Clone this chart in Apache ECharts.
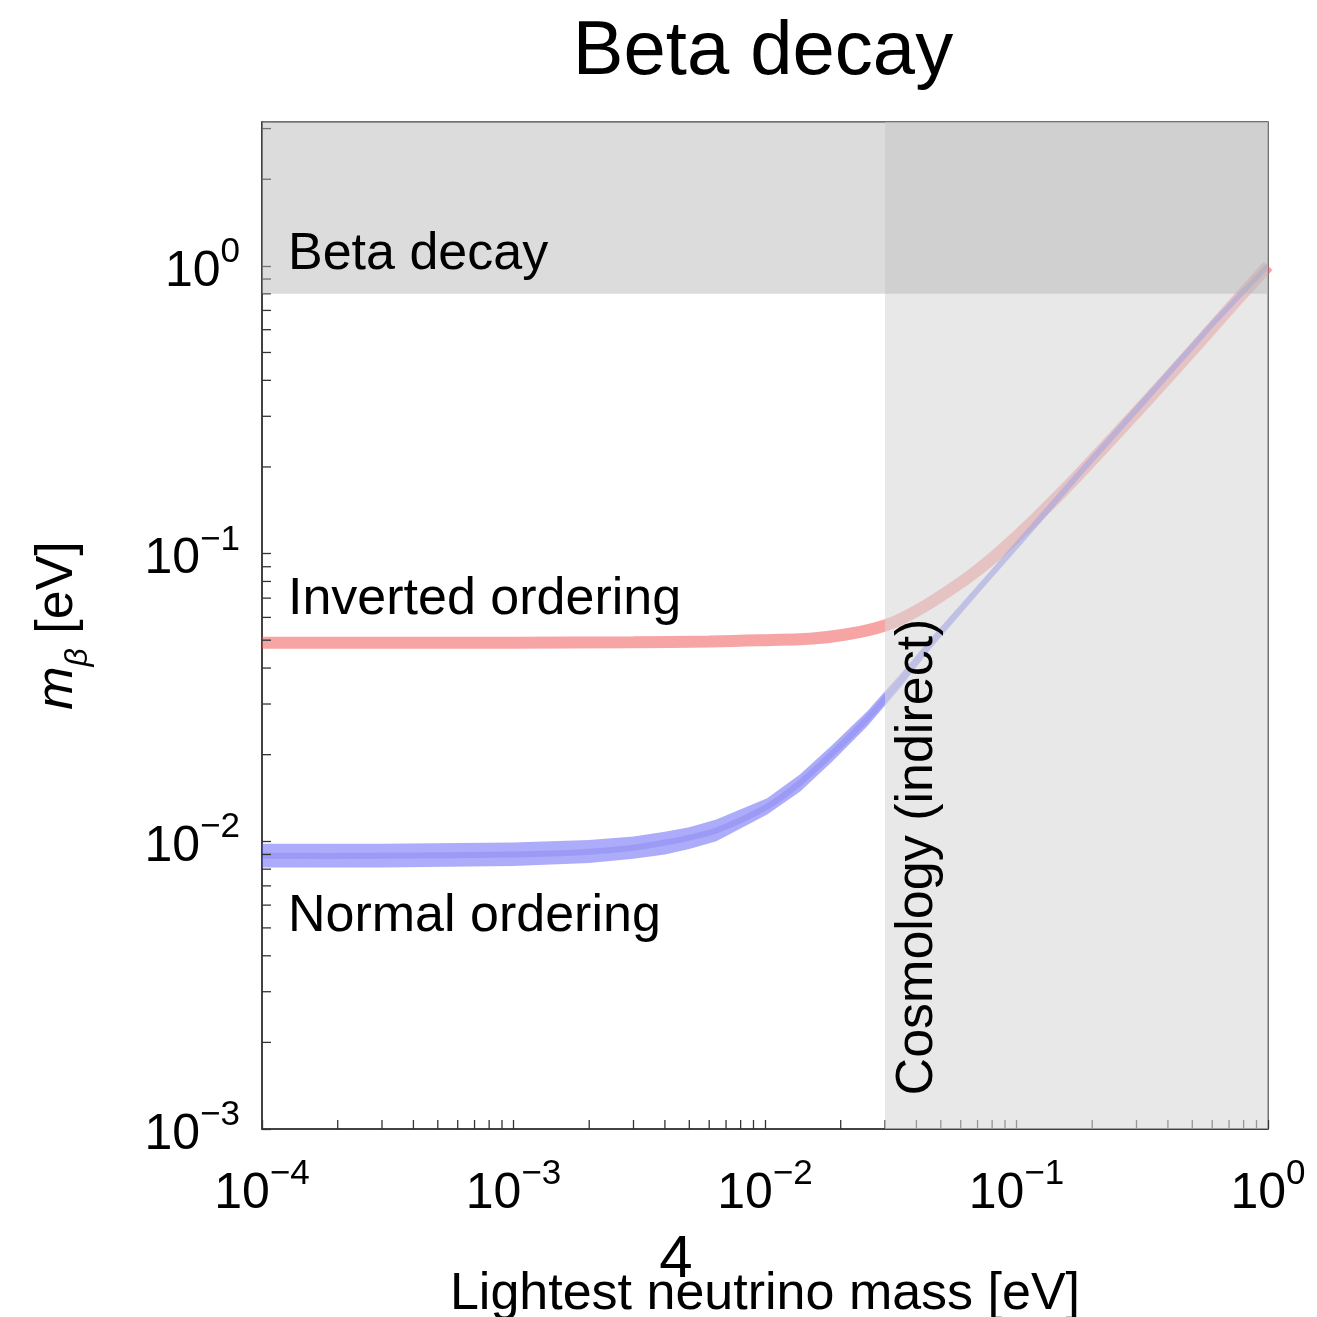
<!DOCTYPE html>
<html><head><meta charset="utf-8">
<script src="https://cdn.jsdelivr.net/npm/echarts@6/dist/echarts.min.js"></script>
<style>html,body{margin:0;padding:0;background:#fff}#c{width:1317px;height:1317px}</style>
</head><body><div id="c"></div>
<script>
// ---- axis ranges / limits ----
const xMin = 1e-4, xMax = 1;
const yMin = 1e-3, yMax = 3.1623;
const cosmologyLimit = 0.03;   // lightest mass bound (indirect, cosmology)
const betaDecayLimit = 0.8;    // m_beta bound from beta decay

// ---- Inverted ordering (red band, centre line) ----
const ioMass  = [1e-4, 3e-4, 1e-3, 3e-3, 6e-3, 0.01, 0.015, 0.02, 0.03, 0.04, 0.05, 0.07, 0.1, 0.15, 0.2, 0.3, 0.5, 0.7, 1.0];
const ioMbeta = [0.049, 0.049, 0.049, 0.0492, 0.0495, 0.0500, 0.0506, 0.052, 0.0562, 0.0632, 0.0712, 0.0875, 0.1145, 0.162, 0.211, 0.31, 0.508, 0.708, 1.0];

// ---- Normal ordering (blue band: low / high edges and darker centre) ----
const noMass = [1e-4, 3e-4, 1e-3, 2e-3, 3e-3, 4e-3, 5e-3, 6.4e-3, 0.0102, 0.0138, 0.0186, 0.0255, 0.0344, 0.0453, 0.0718, 0.113, 0.179, 0.33, 0.604, 1.0];
const noLow  = [0.0081, 0.0081, 0.0082, 0.0084, 0.0087, 0.0090, 0.0094, 0.0100, 0.0124, 0.0149, 0.0190, 0.0251, 0.0340, 0.0463, 0.0740, 0.116, 0.185, 0.336, 0.612, 0.975];
const noHigh = [0.0098, 0.0098, 0.0099, 0.0101, 0.0104, 0.0108, 0.0112, 0.0119, 0.0141, 0.0171, 0.0217, 0.0283, 0.0380, 0.0505, 0.0795, 0.125, 0.198, 0.360, 0.650, 1.03];
const noMid  = [0.0089, 0.0089, 0.0090, 0.0092, 0.0095, 0.0099, 0.0103, 0.0109, 0.0132, 0.0160, 0.0203, 0.0267, 0.0360, 0.0484, 0.0767, 0.1205, 0.191, 0.348, 0.631, 1.0];

// ---- minor tick values (2..9 per decade) ----
const xMinorTicks = [];
for (let k = -4; k <= -1; k++) for (let m = 2; m <= 9; m++) xMinorTicks.push(+(m * Math.pow(10, k)).toPrecision(3));
const yMinorTicks = [];
for (let k = -3; k <= 0; k++) for (let m = 2; m <= 9; m++) { const v = +(m * Math.pow(10, k)).toPrecision(3); if (v < yMax) yMinorTicks.push(v); }

const FONT = '"Liberation Sans", Arial, Helvetica, sans-serif';

function expLabel(v) {
  const e = Math.log10(v), r = Math.round(e);
  if (Math.abs(e - r) > 1e-6) return '';
  return '{b|10}{s|' + (r < 0 ? '\u2212' + (-r) : String(r)) + '}';
}
const labelRich = {
  b: { fontSize: 50, fontFamily: FONT, color: '#000', lineHeight: 62, verticalAlign: 'bottom' },
  s: { fontSize: 35, fontFamily: FONT, color: '#000', lineHeight: 35, verticalAlign: 'top' }
};

const chart = echarts.init(document.getElementById('c'), null, { renderer: 'canvas' });

function rectSeries(name, z, color, corner1, corner2) {
  return {
    name: name, type: 'custom', z: z, silent: true, clip: true,
    data: [[corner1[0], corner1[1], corner2[0], corner2[1]]],
    renderItem(params, api) {
      const p1 = api.coord([api.value(0), api.value(1)]);
      const p2 = api.coord([api.value(2), api.value(3)]);
      return { type: 'rect', shape: { x: Math.min(p1[0], p2[0]), y: Math.min(p1[1], p2[1]), width: Math.abs(p2[0] - p1[0]), height: Math.abs(p2[1] - p1[1]) }, style: { fill: color } };
    }
  };
}

const option = {
  animation: false,
  backgroundColor: '#fff',
  grid: { left: 262, right: 49, top: 122, bottom: 188, containLabel: false, outerBoundsMode: 'none', show: true, borderColor: '#444', borderWidth: 1.5, backgroundColor: 'transparent' },
  xAxis: {
    type: 'log', logBase: 10, min: xMin, max: xMax,
    axisLine: { lineStyle: { color: '#333', width: 1.5 } },
    axisTick: { inside: true, length: 9, lineStyle: { color: '#333', width: 1.3 } },
    splitLine: { show: false },
    axisLabel: { margin: 28, formatter: expLabel, rich: labelRich },
    name: 'Lightest neutrino mass [eV]', nameLocation: 'middle', nameGap: 140,
    nameTextStyle: { fontSize: 52, fontFamily: FONT, color: '#000' }
  },
  yAxis: {
    type: 'log', logBase: 10, min: yMin, max: yMax,
    axisLine: { lineStyle: { color: '#333', width: 1.5 } },
    axisTick: { inside: true, length: 9, lineStyle: { color: '#333', width: 1.3 } },
    splitLine: { show: false },
    axisLabel: { margin: 22, formatter: expLabel, rich: labelRich, showMaxLabel: false },
    name: '{m|m}{g|\u03B2}{t| [eV]}', nameLocation: 'middle', nameRotate: 90, nameGap: 148,
    nameTextStyle: {
      rich: {
        m: { fontSize: 52, fontFamily: FONT, fontStyle: 'italic', color: '#000', lineHeight: 52, verticalAlign: 'top' },
        g: { fontSize: 32, fontFamily: FONT, fontStyle: 'italic', color: '#000', lineHeight: 82, verticalAlign: 'top', padding: [30, 0, 0, 0] },
        t: { fontSize: 52, fontFamily: FONT, color: '#000', lineHeight: 52, verticalAlign: 'top' }
      }
    }
  },
  series: [
    {
      name: 'Inverted ordering', type: 'line', z: 2, silent: true, clip: true,
      data: ioMass.map((m, i) => [m, ioMbeta[i]]),
      symbol: 'none', smooth: 0.45,
      lineStyle: { width: 12, color: 'rgba(240,80,80,0.52)', cap: 'butt' }
    },
    {
      name: 'Normal ordering', type: 'custom', z: 3, silent: true, clip: true,
      data: [[noMass[0], noMid[0]]],
      renderItem(params, api) {
        if (params.dataIndex !== 0) return null;
        const up = noMass.map((m, i) => api.coord([m, noHigh[i]]));
        const lo = noMass.map((m, i) => api.coord([m, noLow[i]])).reverse();
        const mid = noMass.map((m, i) => api.coord([m, noMid[i]]));
        return {
          type: 'group',
          children: [
            { type: 'polygon', shape: { points: up.concat(lo) }, style: { fill: 'rgba(90,90,245,0.5)' } },
            { type: 'polyline', shape: { points: mid, smooth: 0.3 }, style: { stroke: 'rgba(70,70,225,0.16)', lineWidth: 6, fill: null } }
          ]
        };
      }
    },
    {
      name: 'xMinorTicks', type: 'custom', z: 4, silent: true, clip: false,
      data: xMinorTicks.map(v => [v, yMin]),
      renderItem(params, api) {
        const p = api.coord([api.value(0), api.value(1)]);
        return { type: 'line', shape: { x1: p[0], y1: p[1], x2: p[0], y2: p[1] - 9 }, style: { stroke: '#333', lineWidth: 1.3 } };
      }
    },
    {
      name: 'yMinorTicks', type: 'custom', z: 4, silent: true, clip: false,
      data: yMinorTicks.map(v => [xMin, v]),
      renderItem(params, api) {
        const p = api.coord([api.value(0), api.value(1)]);
        return { type: 'line', shape: { x1: p[0], y1: p[1], x2: p[0] + 9, y2: p[1] }, style: { stroke: '#333', lineWidth: 1.3 } };
      }
    },
    rectSeries('Cosmology (indirect)', 5, 'rgba(217,217,217,0.6)', [cosmologyLimit, yMax], [xMax, yMin]),
    rectSeries('Beta decay limit', 6, 'rgba(182,182,182,0.48)', [xMin, yMax], [xMax, betaDecayLimit])
  ],
  graphic: [
    { type: 'text', z: 100, x: 763, y: 53, style: { text: 'Beta decay', font: '76px ' + FONT, fill: '#000', align: 'center', verticalAlign: 'middle', textAlign: 'center', textVerticalAlign: 'middle' } },
    { type: 'text', z: 100, x: 288, y: 255, style: { text: 'Beta decay', font: '52px ' + FONT, fill: '#000', align: 'left', verticalAlign: 'middle', textAlign: 'left', textVerticalAlign: 'middle' } },
    { type: 'text', z: 100, x: 288, y: 600, style: { text: 'Inverted ordering', font: '52px ' + FONT, fill: '#000', align: 'left', verticalAlign: 'middle', textAlign: 'left', textVerticalAlign: 'middle' } },
    { type: 'text', z: 100, x: 288, y: 917, style: { text: 'Normal ordering', font: '52px ' + FONT, fill: '#000', align: 'left', verticalAlign: 'middle', textAlign: 'left', textVerticalAlign: 'middle' } },
    { type: 'text', z: 100, x: 918, y: 857, rotation: Math.PI / 2, style: { text: 'Cosmology (indirect)', font: '52px ' + FONT, fill: '#000', align: 'center', verticalAlign: 'middle', textAlign: 'center', textVerticalAlign: 'middle' } },
    { type: 'text', z: 100, x: 676, y: 1260, style: { text: '4', font: '60px ' + FONT, fill: '#000', align: 'center', verticalAlign: 'middle', textAlign: 'center', textVerticalAlign: 'middle' } }
  ]
};
chart.setOption(option);
</script>
</body></html>
